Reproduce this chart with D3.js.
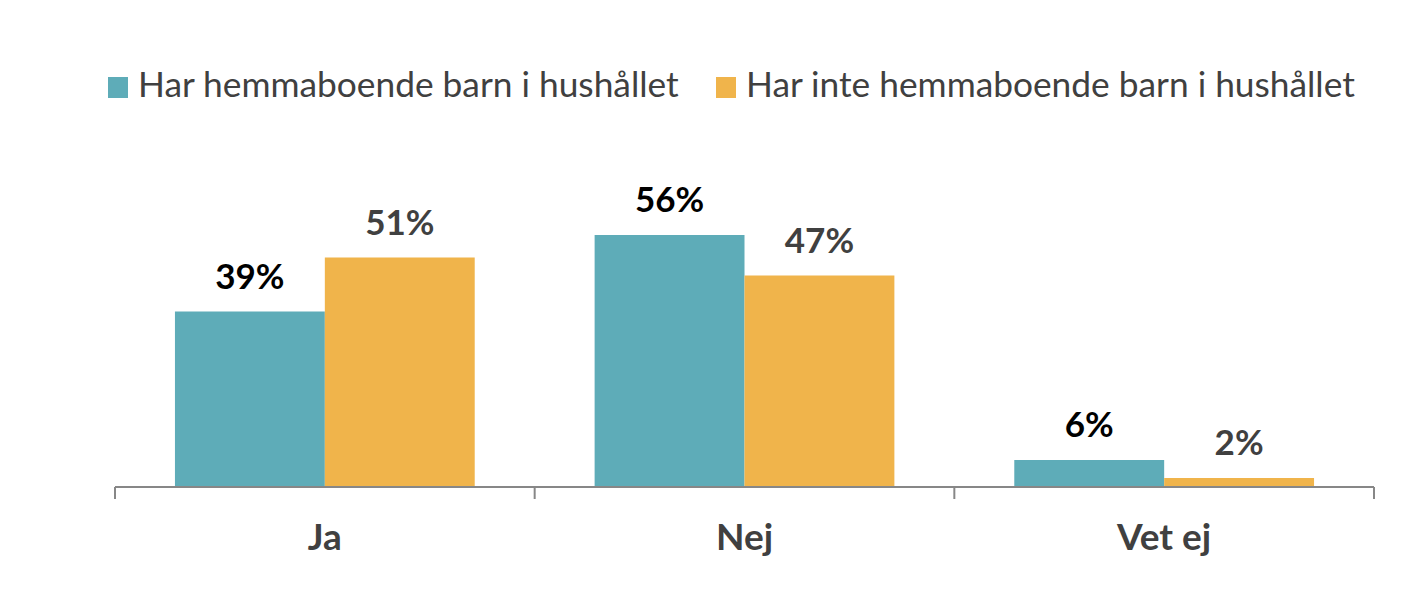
<!DOCTYPE html>
<html><head><meta charset="utf-8">
<script src="https://cdn.jsdelivr.net/npm/d3@7"></script>
<style>html,body{margin:0;padding:0;background:#fff;}svg{display:block;}</style>
</head><body>
<svg id="c" width="1416" height="616"></svg>
<script>
const categories = ["Ja", "Nej", "Vet ej"];
const seriesNames = ["Har hemmaboende barn i hushållet", "Har inte hemmaboende barn i hushållet"];
const withKids = [39, 56, 6];
const withoutKids = [51, 47, 2];
const colors = ["#5eacb8", "#f0b44b"];
const labelColors = ["#000000", "#404040"];
const FONT = "Lato, 'Open Sans', sans-serif";

const svg = d3.select("#c");
const x0 = d3.scaleBand().domain(categories).range([115, 1374]).paddingInner(0).paddingOuter(0);
const x1 = d3.scaleBand().domain([0, 1]).range([0, x0.bandwidth()]).paddingOuter(0.4).paddingInner(0);
const y = d3.scaleLinear().domain([0, 56]).range([487, 235]);

const series = [withKids, withoutKids];
series.forEach((vals, si) => {
  svg.append("g").selectAll("rect").data(categories).join("rect")
    .attr("x", c => x0(c) + x1(si))
    .attr("width", x1.bandwidth())
    .attr("y", (c, i) => y(vals[i]))
    .attr("height", (c, i) => y(0) - y(vals[i]))
    .attr("fill", colors[si]);
  svg.append("g").selectAll("text").data(categories).join("text")
    .attr("x", c => x0(c) + x1(si) + x1.bandwidth() / 2)
    .attr("y", (c, i) => y(vals[i]) - 23)
    .attr("text-anchor", "middle")
    .attr("font-family", FONT).attr("font-weight", 700).attr("font-size", 35)
    .attr("fill", labelColors[si])
    .text((c, i) => vals[i] + "%");
});

// axis
const axis = d3.axisBottom(x0).tickSize(0).tickFormat("");
const ag = svg.append("g").attr("transform", "translate(0,487)").call(axis);
ag.select(".domain").remove();
svg.append("line").attr("x1", 115).attr("x2", 1374).attr("y1", 487).attr("y2", 487)
  .attr("stroke", "#878787").attr("stroke-width", 2);
const edges = categories.map(c => x0(c)).concat([x0.range()[1]]);
svg.append("g").selectAll("line").data(edges).join("line")
  .attr("x1", d => d).attr("x2", d => d).attr("y1", 487).attr("y2", 499)
  .attr("stroke", "#878787").attr("stroke-width", 2);
svg.append("g").selectAll("text").data(categories).join("text")
  .attr("x", c => x0(c) + x0.bandwidth() / 2)
  .attr("y", 550)
  .attr("text-anchor", "middle")
  .attr("font-family", FONT).attr("font-weight", 700).attr("font-size", 37)
  .attr("fill", "#404040")
  .text(c => c);

// legend
const legendX = [108, 716];
const lg = svg.append("g");
seriesNames.forEach((n, i) => {
  lg.append("rect").attr("x", legendX[i]).attr("y", 77).attr("width", 20).attr("height", 21).attr("fill", colors[i]);
  lg.append("text").attr("x", legendX[i] + 30).attr("y", 97)
    .attr("font-family", FONT).attr("font-size", 35.3).attr("fill", "#404040")
    .text(n);
});
</script>
</body></html>
